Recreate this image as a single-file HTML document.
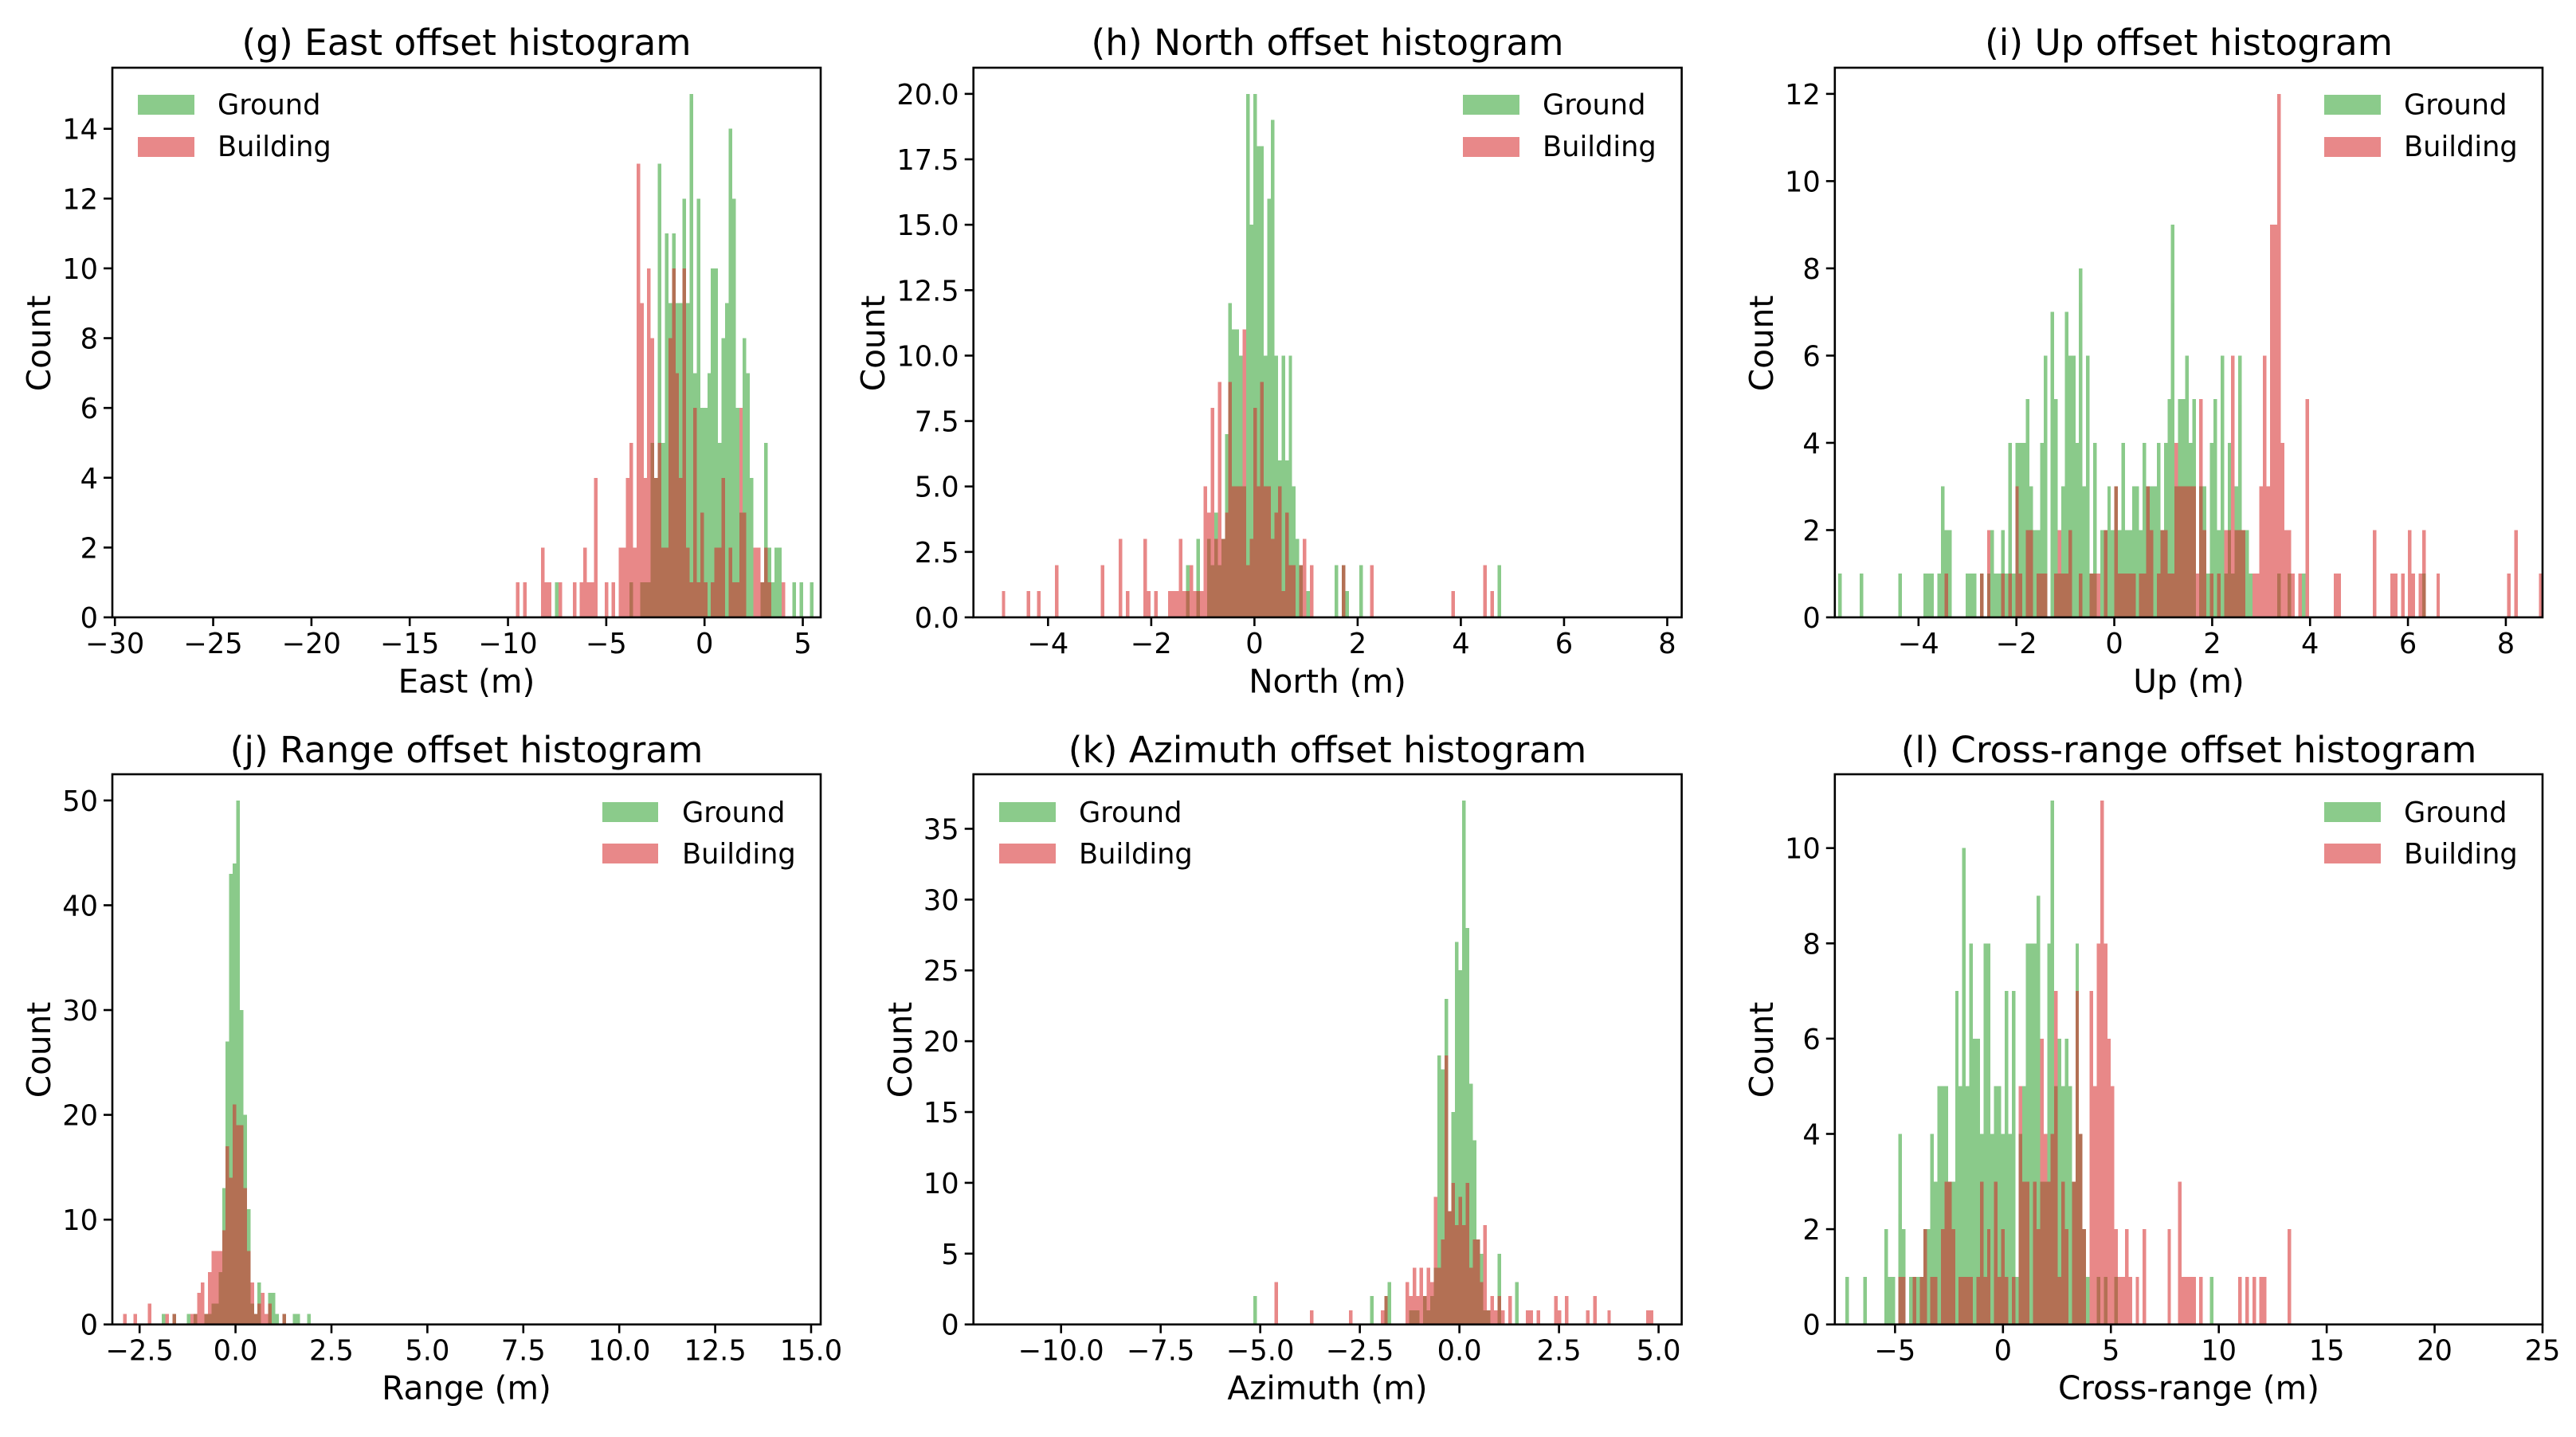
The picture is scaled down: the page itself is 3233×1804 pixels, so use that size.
<!DOCTYPE html>
<html lang="en">
<head>
<meta charset="utf-8">
<title>Offset histograms</title>
<style>
html,body{margin:0;padding:0;background:#fff;width:3233px;height:1804px;overflow:hidden}
svg{display:block}
text{font-family:"DejaVu Sans","Liberation Sans",sans-serif;fill:#000}
.title{font-size:45.4px;text-anchor:middle}
.axis-label{font-size:40.6px;text-anchor:middle}
.legend-text{font-size:35.2px}
.tick-label{font-size:35.2px}
.patch-g{fill:#2ca02c;opacity:.55}
.patch-b{fill:#d62728;opacity:.55}
</style>
</head>
<body>
<svg id="fig" width="3233" height="1804" viewBox="0 0 3233 1804" xmlns="http://www.w3.org/2000/svg">
  <g id="panel-east">
    <text class="title" x="585.5" y="69">(g) East offset histogram</text>
    <text class="axis-label" x="585.5" y="869.5">East (m)</text>
    <text class="axis-label" transform="translate(63,431) rotate(-90)">Count</text>
  </g>
  <g id="panel-north">
    <text class="title" x="1666" y="69">(h) North offset histogram</text>
    <text class="axis-label" x="1666" y="869.5">North (m)</text>
    <text class="axis-label" transform="translate(1110,431) rotate(-90)">Count</text>
  </g>
  <g id="panel-up">
    <text class="title" x="2747" y="69">(i) Up offset histogram</text>
    <text class="axis-label" x="2747" y="869.5">Up (m)</text>
    <text class="axis-label" transform="translate(2225,431) rotate(-90)">Count</text>
  </g>
  <g id="panel-range">
    <text class="title" x="585.5" y="957">(j) Range offset histogram</text>
    <text class="axis-label" x="585.5" y="1756.5">Range (m)</text>
    <text class="axis-label" transform="translate(63,1318) rotate(-90)">Count</text>
  </g>
  <g id="panel-azimuth">
    <text class="title" x="1666" y="957">(k) Azimuth offset histogram</text>
    <text class="axis-label" x="1666" y="1756.5">Azimuth (m)</text>
    <text class="axis-label" transform="translate(1144,1318) rotate(-90)">Count</text>
  </g>
  <g id="panel-cross">
    <text class="title" x="2747" y="957">(l) Cross-range offset histogram</text>
    <text class="axis-label" x="2747" y="1756.5">Cross-range (m)</text>
    <text class="axis-label" transform="translate(2225,1318) rotate(-90)">Count</text>
  </g>
  <g id="legends"></g>
  <g>
    <rect class="patch-g" x="173" y="119" width="71" height="25"/>
    <text class="legend-text" x="273" y="143.5">Ground</text>
    <rect class="patch-b" x="173" y="172" width="71" height="25"/>
    <text class="legend-text" x="273" y="196">Building</text>
  </g>
  <g>
    <rect class="patch-g" x="1836" y="119" width="71" height="25"/>
    <text class="legend-text" x="1936" y="143.5">Ground</text>
    <rect class="patch-b" x="1836" y="172" width="71" height="25"/>
    <text class="legend-text" x="1936" y="196">Building</text>
  </g>
  <g>
    <rect class="patch-g" x="2917" y="119" width="71" height="25"/>
    <text class="legend-text" x="3017" y="143.5">Ground</text>
    <rect class="patch-b" x="2917" y="172" width="71" height="25"/>
    <text class="legend-text" x="3017" y="196">Building</text>
  </g>
  <g>
    <rect class="patch-g" x="756" y="1007" width="70" height="25"/>
    <text class="legend-text" x="856" y="1032">Ground</text>
    <rect class="patch-b" x="756" y="1059" width="70" height="25"/>
    <text class="legend-text" x="856" y="1084">Building</text>
  </g>
  <g>
    <rect class="patch-g" x="1254" y="1007" width="71" height="25"/>
    <text class="legend-text" x="1354" y="1032">Ground</text>
    <rect class="patch-b" x="1254" y="1059" width="71" height="25"/>
    <text class="legend-text" x="1354" y="1084">Building</text>
  </g>
  <g>
    <rect class="patch-g" x="2917" y="1007" width="71" height="25"/>
    <text class="legend-text" x="3017" y="1032">Ground</text>
    <rect class="patch-b" x="2917" y="1059" width="71" height="25"/>
    <text class="legend-text" x="3017" y="1084">Building</text>
  </g>
</svg>
<script>
const binCount = 200;

// East panel
const eastXLim = [-30.13, 5.91];
const eastYMax = 15.75;
const eastXTicks = [-30, -25, -20, -15, -10, -5, 0, 5];
const eastXLabels = ['−30', '−25', '−20', '−15', '−10', '−5', '0', '5'];
const eastYTicks = [0, 2, 4, 6, 8, 10, 12, 14];
const eastYLabels = ['0', '2', '4', '6', '8', '10', '12', '14'];
const eastFirstBin = 114;
const eastGround = [
  0,0,0,0,0,0,0,0,0,0,
  0,1,0,0,0,0,0,0,0,0,
  0,0,0,0,0,0,0,0,0,0,
  0,0,1,0,0,1,1,1,5,4,
  13,5,11,9,11,9,9,12,9,15,
  7,12,6,6,7,10,10,5,8,9,
  14,12,6,3,8,7,4,0,0,1,
  5,2,1,2,2,0,0,0,1,0,
  1,0,0,1];
const eastBuilding = [
  1,0,1,0,0,0,0,2,1,1,
  0,0,1,0,0,0,1,0,1,2,
  1,1,4,0,0,1,0,1,0,2,
  2,4,5,2,13,9,4,10,8,4,
  5,2,2,8,10,7,4,10,2,1,
  6,1,3,1,0,1,2,2,4,0,
  2,1,1,6,3,0,0,2,2,1,
  2,1,0,0,0,1,0,0,0,0,
  0,0,0,0];

// North panel
const northXLim = [-5.446, 8.28];
const northYMax = 21;
const northXTicks = [-4, -2, 0, 2, 4, 6, 8];
const northXLabels = ['−4', '−2', '0', '2', '4', '6', '8'];
const northYTicks = [0, 2.5, 5, 7.5, 10, 12.5, 15, 17.5, 20];
const northYLabels = ['0.0', '2.5', '5.0', '7.5', '10.0', '12.5', '15.0', '17.5', '20.0'];
const northGroundBins = [60,63,66,67,68,69,70,71,72,73,74,75,76,77,78,79,80,81,82,83,84,85,86,87,88,89,90,91,92,94,102,104,105,109,148];
const northGroundCounts = [2,3,3,2,4,2,3,7,12,11,11,10,5,20,15,20,18,18,10,16,19,10,6,10,6,10,5,3,2,1,2,2,1,2,2];
const northBuildingBins = [8,15,18,23,36,41,43,48,49,51,55,56,57,58,59,60,61,62,63,64,65,66,67,68,69,70,71,72,73,74,75,76,77,78,79,80,81,82,83,84,85,86,87,88,89,90,92,93,95,104,112,135,144,146];
const northBuildingCounts = [1,1,1,2,2,3,1,3,1,1,1,1,1,3,1,1,2,1,1,1,5,4,8,3,9,3,4,9,5,5,5,11,2,3,8,5,9,5,5,3,4,5,1,4,2,2,2,3,2,2,2,1,2,1];

// Up panel
const upXLim = [-5.71, 8.75];
const upYMax = 12.6;
const upXTicks = [-4, -2, 0, 2, 4, 6, 8];
const upXLabels = ['−4', '−2', '0', '2', '4', '6', '8'];
const upYTicks = [0, 2, 4, 6, 8, 10, 12];
const upYLabels = ['0', '2', '4', '6', '8', '10', '12'];
const upGroundBins = [1,7,18,25,26,27,29,30,31,32,37,38,39,41,43,44,45,46,47,48,49,50,51,52,53,54,55,56,57,58,59,61,62,63,64,65,66,67,68,69,70,71,72,73,75,76,77,78,79,80,81,82,83,84,85,86,87,88,89,90,91,92,93,94,95,96,97,98,99,100,101,103,104,105,106,107,108,109,110,111,112,113,114,115,116,117,125,128,132,166];
const upGroundCounts = [1,1,1,1,1,1,1,3,2,2,1,1,1,1,1,2,1,1,2,1,4,1,4,4,4,5,3,2,2,4,6,7,5,1,3,7,6,6,4,8,3,6,1,4,2,2,3,2,3,2,4,2,2,3,3,2,4,3,3,3,4,2,4,5,9,3,5,5,6,4,5,3,3,1,4,5,2,6,1,4,1,3,6,2,2,1,1,1,1,1];
const upBuildingBins = [31,41,43,47,49,51,52,54,55,57,58,59,62,63,64,65,66,69,72,73,74,76,79,80,81,82,83,84,86,87,88,89,91,92,93,94,95,96,97,98,99,100,101,102,103,104,106,108,110,111,112,113,114,115,118,119,120,121,122,123,124,125,126,127,128,129,131,133,141,142,152,157,158,160,162,163,165,166,170,190,192,199];
const upBuildingCounts = [1,1,2,1,1,3,1,2,2,1,1,1,1,2,1,1,2,1,1,1,1,2,3,1,1,1,1,1,1,1,3,2,1,2,2,1,1,4,3,3,3,3,3,1,5,2,1,1,2,2,6,2,2,2,1,1,3,6,3,9,9,12,4,2,2,1,1,5,1,1,2,1,1,1,2,1,1,2,1,1,2,1];

// Range panel
const rangeXLim = [-3.21, 15.25];
const rangeYMax = 52.5;
const rangeXTicks = [-2.5, 0, 2.5, 5, 7.5, 10, 12.5, 15];
const rangeXLabels = ['−2.5', '0.0', '2.5', '5.0', '7.5', '10.0', '12.5', '15.0'];
const rangeYTicks = [0, 10, 20, 30, 40, 50];
const rangeYLabels = ['0', '10', '20', '30', '40', '50'];
const rangeGroundBins = [14,17,21,23,26,27,28,29,30,31,32,33,34,35,36,37,38,39,40,41,44,45,46,48,51,52,55];
const rangeGroundCounts = [1,1,1,1,1,1,2,2,5,13,27,43,44,50,30,20,11,2,1,4,3,3,1,1,1,1,1];
const rangeBuildingBins = [3,6,10,15,17,22,23,24,25,26,27,28,29,30,31,32,33,34,35,36,37,38,39,40,41,42,43,44,48];
const rangeBuildingCounts = [1,1,2,1,1,1,1,3,4,1,5,7,7,7,9,17,14,21,19,19,13,7,4,1,2,3,1,2,1];

// Azimuth panel
const azimuthXLim = [-12.2, 5.58];
const azimuthYMax = 38.85;
const azimuthXTicks = [-10, -7.5, -5, -2.5, 0, 2.5, 5];
const azimuthXLabels = ['−10.0', '−7.5', '−5.0', '−2.5', '0.0', '2.5', '5.0'];
const azimuthYTicks = [0, 5, 10, 15, 20, 25, 30, 35];
const azimuthYLabels = ['0', '5', '10', '15', '20', '25', '30', '35'];
const azimuthGroundBins = [79,112,116,117,123,124,125,127,128,129,130,131,132,133,134,135,136,137,138,139,140,141,142,143,144,145,148,153];
const azimuthGroundCounts = [2,2,2,3,1,1,1,2,1,2,4,19,18,23,8,15,27,25,37,28,17,13,6,5,1,1,5,3];
const azimuthBuildingBins = [85,95,106,115,116,122,123,124,125,126,127,128,129,130,131,132,133,134,135,136,137,138,139,140,141,142,143,144,145,146,147,148,149,151,156,157,159,164,165,167,173,175,179,190,191];
const azimuthBuildingCounts = [3,1,1,1,2,3,2,4,2,4,2,4,3,9,4,6,19,8,10,7,9,7,10,4,6,6,3,7,1,2,1,2,1,2,1,1,1,2,1,2,1,2,1,1,1];

// Cross-range panel
const crossXLim = [-7.79, 25];
const crossYMax = 11.55;
const crossXTicks = [-5, 0, 5, 10, 15, 20, 25];
const crossXLabels = ['−5', '0', '5', '10', '15', '20', '25'];
const crossYTicks = [0, 2, 4, 6, 8, 10];
const crossYLabels = ['0', '2', '4', '6', '8', '10'];
const crossGroundBins = [3,8,14,15,16,18,19,21,22,23,24,25,26,27,28,29,30,31,32,33,34,35,36,37,38,39,40,41,42,43,44,45,46,47,48,49,50,51,52,53,54,55,56,57,58,59,60,61,62,63,64,65,66,67,68,69,70,71,74,76,79,106];
const crossGroundCounts = [1,1,2,1,1,4,2,1,1,1,1,2,2,4,3,5,5,5,3,3,7,5,10,5,8,6,6,4,8,8,4,5,5,4,7,4,7,1,4,5,8,8,8,9,3,3,8,11,5,6,5,6,5,3,8,4,2,1,1,1,1,1];
const crossBuildingBins = [18,19,22,24,25,27,28,30,31,32,33,35,36,37,38,40,41,42,43,45,46,47,48,50,52,53,54,56,57,58,59,60,61,62,63,64,65,67,68,69,70,72,73,74,75,76,77,78,79,80,81,82,83,85,87,94,97,98,99,100,101,103,114,116,118,120,121,128];
const crossBuildingCounts = [1,1,1,1,2,1,1,2,3,3,2,1,1,1,1,1,3,1,2,3,1,2,1,1,5,3,3,3,2,6,4,3,4,7,1,3,2,3,7,4,2,7,5,8,11,8,6,5,2,1,1,2,1,1,2,2,3,1,1,1,1,1,1,1,1,1,1,2];

function seq(first, arr) {
  const bins = [];
  for (let i = 0; i < arr.length; i++) bins.push(first + i);
  return bins;
}

const panels = [
  {id:'panel-east', key:'east', box:[141,1030,85,775], xLim:eastXLim, yMax:eastYMax, xTicks:eastXTicks, xLabels:eastXLabels, yTicks:eastYTicks, yLabels:eastYLabels,
   gBins:seq(eastFirstBin,eastGround), gCounts:eastGround, bBins:seq(eastFirstBin,eastBuilding), bCounts:eastBuilding},
  {id:'panel-north', key:'north', box:[1221.7,2110.6,85,775], xLim:northXLim, yMax:northYMax, xTicks:northXTicks, xLabels:northXLabels, yTicks:northYTicks, yLabels:northYLabels,
   gBins:northGroundBins, gCounts:northGroundCounts, bBins:northBuildingBins, bCounts:northBuildingCounts},
  {id:'panel-up', key:'up', box:[2302.8,3191,85,775], xLim:upXLim, yMax:upYMax, xTicks:upXTicks, xLabels:upXLabels, yTicks:upYTicks, yLabels:upYLabels,
   gBins:upGroundBins, gCounts:upGroundCounts, bBins:upBuildingBins, bCounts:upBuildingCounts},
  {id:'panel-range', key:'range', box:[141,1030,972,1662.7], xLim:rangeXLim, yMax:rangeYMax, xTicks:rangeXTicks, xLabels:rangeXLabels, yTicks:rangeYTicks, yLabels:rangeYLabels,
   gBins:rangeGroundBins, gCounts:rangeGroundCounts, bBins:rangeBuildingBins, bCounts:rangeBuildingCounts},
  {id:'panel-azimuth', key:'azimuth', box:[1221.7,2110.6,972,1662.7], xLim:azimuthXLim, yMax:azimuthYMax, xTicks:azimuthXTicks, xLabels:azimuthXLabels, yTicks:azimuthYTicks, yLabels:azimuthYLabels,
   gBins:azimuthGroundBins, gCounts:azimuthGroundCounts, bBins:azimuthBuildingBins, bCounts:azimuthBuildingCounts},
  {id:'panel-cross', key:'cross-range', box:[2302.8,3191,972,1662.7], xLim:crossXLim, yMax:crossYMax, xTicks:crossXTicks, xLabels:crossXLabels, yTicks:crossYTicks, yLabels:crossYLabels,
   gBins:crossGroundBins, gCounts:crossGroundCounts, bBins:crossBuildingBins, bCounts:crossBuildingCounts}
];

const NS = 'http://www.w3.org/2000/svg';
function mk(tag, attrs, parent) {
  const el = document.createElementNS(NS, tag);
  for (const k in attrs) el.setAttribute(k, attrs[k]);
  parent.appendChild(el);
  return el;
}

function drawSeries(group, p, bins, counts, xScale, yScale, seriesName) {
  const binWidth = (p.xLim[1] - p.xLim[0]) / binCount;
  bins.forEach(function (bin, i) {
    const count = counts[i];
    if (!count) return;
    const x0 = xScale(p.xLim[0] + bin * binWidth);
    const x1 = xScale(p.xLim[0] + (bin + 1) * binWidth);
    const y1 = yScale(count);
    const rect = mk('rect', {x: x0, y: y1, width: x1 - x0, height: yScale(0) - y1, 'shape-rendering': 'crispEdges'}, group);
    
    
  });
}

panels.forEach(function (p) {
  const root = document.getElementById(p.id);
  const L = p.box[0], R = p.box[1], T = p.box[2], B = p.box[3];
  const xScale = function (v) { return L + (v - p.xLim[0]) / (p.xLim[1] - p.xLim[0]) * (R - L); };
  const yScale = function (v) { return B - v / p.yMax * (B - T); };

  const gGround = mk('g', {fill: '#2ca02c', opacity: '0.55'}, root);
  
  
  drawSeries(gGround, p, p.gBins, p.gCounts, xScale, yScale, 'ground');

  const gBuilding = mk('g', {fill: '#d62728', opacity: '0.55'}, root);
  
  
  drawSeries(gBuilding, p, p.bBins, p.bCounts, xScale, yScale, 'building');

  const frame = mk('rect', {x: L, y: T, width: R - L, height: B - T, fill: 'none', stroke: '#000', 'stroke-width': 2.6}, root);
  
  

  p.xTicks.forEach(function (v, i) {
    const x = xScale(v);
    const tick = mk('line', {x1: x, x2: x, y1: B, y2: B + 11, stroke: '#000', 'stroke-width': 2.6}, root);
    
    
    const label = mk('text', {x: x, y: B + 45, 'text-anchor': 'middle', class: 'tick-label'}, root);
    
    
    label.textContent = p.xLabels[i];
  });

  p.yTicks.forEach(function (v, i) {
    const y = yScale(v);
    const tick = mk('line', {x1: L - 11, x2: L, y1: y, y2: y, stroke: '#000', 'stroke-width': 2.6}, root);
    
    
    const label = mk('text', {x: L - 18, y: y + 13, 'text-anchor': 'end', class: 'tick-label'}, root);
    
    
    label.textContent = p.yLabels[i];
  });
});
</script>
</body>
</html>
